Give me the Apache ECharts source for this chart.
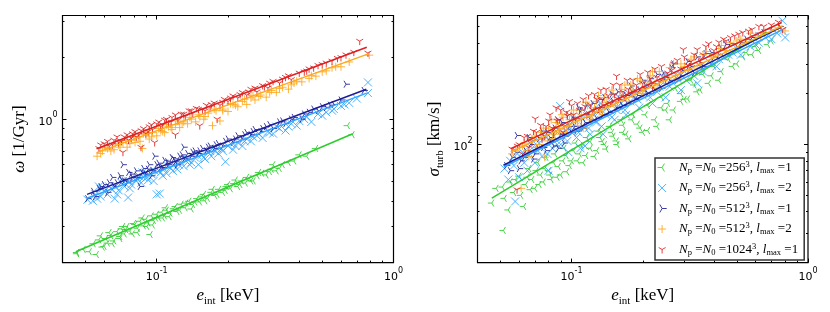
<!DOCTYPE html>
<html><head><meta charset="utf-8">
<script src="https://cdn.jsdelivr.net/npm/echarts@6/dist/echarts.min.js"></script>
<style>html,body{margin:0;padding:0;background:#fff}#c{width:830px;height:312px}</style>
</head><body><div id="c"></div>
<script>
// ---------- tick values ----------
const xMajorTicks = [0.1, 1];
const xMinorTicks = [0.05,0.06,0.07,0.08,0.09,0.2,0.3,0.4,0.5,0.6,0.7,0.8,0.9];
const omegaMajorTicks = [1];
const omegaMinorTicks = [0.3,0.4,0.5,0.6,0.7,0.8,0.9,2,3];
const sigmaMajorTicks = [100];
const sigmaMinorTicks = [30,40,50,60,70,80,90,200,300,400,500];

// ---------- categories ----------
const seriesNames = ['Np=N0=256^3, lmax=1','Np=N0=256^3, lmax=2','Np=N0=512^3, lmax=1','Np=N0=512^3, lmax=2','Np=N0=1024^3, lmax=1'];
const legendLabels = [
  '{i|N}{sub|p}{n| =}{i|N}{sub|0}{n| =256}{sup|3}{n|, }{i|l}{sub|max}{n| =1}',
  '{i|N}{sub|p}{n| =}{i|N}{sub|0}{n| =256}{sup|3}{n|, }{i|l}{sub|max}{n| =2}',
  '{i|N}{sub|p}{n| =}{i|N}{sub|0}{n| =512}{sup|3}{n|, }{i|l}{sub|max}{n| =1}',
  '{i|N}{sub|p}{n| =}{i|N}{sub|0}{n| =512}{sup|3}{n|, }{i|l}{sub|max}{n| =2}',
  '{i|N}{sub|p}{n| =}{i|N}{sub|0}{n| =1024}{sup|3}{n|, }{i|l}{sub|max}{n| =1}'
];

// ---------- left panel: omega [1/Gyr] vs e_int [keV] ----------
const omega_256_l1 = [[0.046,0.224],[0.046,0.221],[0.049,0.232],[0.052,0.226],[0.054,0.247],[0.0557,0.219],[0.057,0.258],[0.059,0.238],[0.061,0.262],[0.062,0.249],[0.064,0.271],[0.066,0.255],[0.068,0.283],[0.07,0.268],[0.071,0.292],[0.073,0.276],[0.075,0.3],[0.077,0.285],[0.079,0.276],[0.081,0.307],[0.083,0.294],[0.085,0.318],[0.088,0.302],[0.09,0.325],[0.092,0.312],[0.094,0.274],[0.095,0.338],[0.097,0.321],[0.1,0.344],[0.102,0.33],[0.105,0.352],[0.108,0.338],[0.11,0.36],[0.114,0.348],[0.118,0.366],[0.122,0.355],[0.127,0.385],[0.132,0.37],[0.137,0.398],[0.142,0.384],[0.148,0.41],[0.152,0.395],[0.158,0.43],[0.164,0.412],[0.17,0.44],[0.176,0.425],[0.183,0.455],[0.19,0.44],[0.197,0.47],[0.205,0.458],[0.212,0.485],[0.22,0.47],[0.228,0.5],[0.237,0.488],[0.246,0.515],[0.256,0.5],[0.266,0.53],[0.278,0.545],[0.29,0.535],[0.305,0.57],[0.32,0.56],[0.34,0.6],[0.36,0.615],[0.38,0.625],[0.4,0.67],[0.43,0.66],[0.47,0.72],[0.64,0.93],[0.67,0.84],
  [0.058,0.27],[0.06,0.24],[0.063,0.28],[0.065,0.247],[0.07,0.262],[0.072,0.3],[0.074,0.29],[0.08,0.31],[0.083,0.28],[0.087,0.33],[0.091,0.3],[0.096,0.305],[0.099,0.33],[0.106,0.33],[0.109,0.37],[0.113,0.335],[0.12,0.375],[0.125,0.36],[0.133,0.39],[0.14,0.365],[0.145,0.395],[0.155,0.418],[0.16,0.4],[0.172,0.455],[0.18,0.43],[0.195,0.45],[0.2,0.48],[0.215,0.505],[0.225,0.48],[0.24,0.52],[0.25,0.5],[0.27,0.55],[0.3,0.555],[0.31,0.6],[0.33,0.575]];
const omega_256_l2 = [[0.051,0.405],[0.0537,0.4],[0.055,0.43],[0.057,0.47],[0.058,0.42],[0.06,0.445],[0.062,0.43],[0.064,0.46],[0.0665,0.41],[0.067,0.47],[0.069,0.45],[0.071,0.49],[0.073,0.47],[0.0757,0.415],[0.076,0.5],[0.078,0.48],[0.08,0.515],[0.082,0.5],[0.084,0.53],[0.086,0.49],[0.088,0.52],[0.09,0.55],[0.092,0.505],[0.095,0.54],[0.098,0.56],[0.1,0.43],[0.103,0.434],[0.104,0.55],[0.107,0.575],[0.11,0.545],[0.114,0.58],[0.118,0.6],[0.122,0.57],[0.126,0.62],[0.13,0.59],[0.135,0.635],[0.14,0.615],[0.145,0.65],[0.15,0.6],[0.155,0.67],[0.16,0.64],[0.165,0.69],[0.17,0.66],[0.176,0.7],[0.182,0.68],[0.188,0.72],[0.195,0.62],[0.2,0.74],[0.21,0.71],[0.22,0.77],[0.23,0.74],[0.24,0.8],[0.25,0.78],[0.265,0.83],[0.28,0.81],[0.295,0.87],[0.31,0.85],[0.33,0.9],[0.35,0.88],[0.37,0.95],[0.39,0.93],[0.42,1.0],[0.45,0.97],[0.48,1.06],[0.52,1.08],[0.56,1.12],[0.6,1.16],[0.65,1.2],[0.78,1.34],[0.78,1.51],
  [0.056,0.41],[0.059,0.46],[0.063,0.47],[0.068,0.43],[0.072,0.5],[0.077,0.46],[0.083,0.51],[0.087,0.55],[0.091,0.52],[0.097,0.5],[0.102,0.56],[0.106,0.53],[0.112,0.59],[0.117,0.56],[0.124,0.6],[0.132,0.63],[0.138,0.6],[0.148,0.67],[0.158,0.65],[0.168,0.7],[0.18,0.72],[0.19,0.7],[0.205,0.76],[0.215,0.74],[0.235,0.78],[0.255,0.82],[0.27,0.85],[0.3,0.86],[0.32,0.92],[0.36,0.92],[0.4,0.98],[0.43,1.03],[0.5,1.04],[0.55,1.1],[0.62,1.18],[0.7,1.26]];
const omega_512_l1 = [[0.051,0.41],[0.054,0.445],[0.057,0.46],[0.06,0.48],[0.062,0.44],[0.065,0.52],[0.068,0.49],[0.07,0.53],[0.072,0.6],[0.073,0.5],[0.076,0.55],[0.079,0.52],[0.082,0.56],[0.085,0.47],[0.088,0.575],[0.09,0.54],[0.093,0.6],[0.096,0.56],[0.098,0.66],[0.1,0.6],[0.104,0.58],[0.108,0.63],[0.112,0.6],[0.116,0.65],[0.12,0.62],[0.125,0.66],[0.13,0.73],[0.131,0.64],[0.135,0.68],[0.14,0.66],[0.145,0.7],[0.15,0.68],[0.156,0.72],[0.162,0.7],[0.168,0.74],[0.175,0.72],[0.182,0.76],[0.19,0.74],[0.2,0.8],[0.21,0.77],[0.22,0.83],[0.23,0.8],[0.24,0.86],[0.25,0.84],[0.26,0.89],[0.275,0.87],[0.29,0.92],[0.31,0.9],[0.33,0.97],[0.35,0.95],[0.38,1.02],[0.41,1.0],[0.44,1.08],[0.48,1.1],[0.52,1.14],[0.56,1.18],[0.63,1.48],
  [0.055,0.42],[0.058,0.47],[0.063,0.49],[0.066,0.47],[0.071,0.51],[0.075,0.49],[0.078,0.54],[0.083,0.52],[0.087,0.55],[0.092,0.57],[0.095,0.53],[0.102,0.61],[0.106,0.58],[0.111,0.62],[0.118,0.64],[0.122,0.6],[0.128,0.67],[0.142,0.69],[0.152,0.7],[0.165,0.73],[0.178,0.75],[0.195,0.78],[0.215,0.8],[0.235,0.84],[0.255,0.87],[0.28,0.9],[0.3,0.94],[0.34,0.98],[0.37,1.0],[0.42,1.06],[0.46,1.12],[0.5,1.15],[0.54,1.17],[0.6,1.24],[0.75,1.38]];
const omega_512_l2 = [[0.056,0.66],[0.059,0.7],[0.062,0.72],[0.066,0.71],[0.069,0.75],[0.072,0.77],[0.075,0.73],[0.078,0.79],[0.081,0.77],[0.084,0.82],[0.087,0.72],[0.09,0.84],[0.093,0.8],[0.096,0.86],[0.1,0.83],[0.104,0.88],[0.108,0.86],[0.112,0.92],[0.116,0.89],[0.12,0.94],[0.125,0.91],[0.13,0.97],[0.135,0.95],[0.14,1.0],[0.146,0.97],[0.152,1.03],[0.158,1.0],[0.165,1.07],[0.172,0.93],[0.178,1.1],[0.185,0.98],[0.19,1.12],[0.2,1.09],[0.21,1.18],[0.22,1.15],[0.23,1.22],[0.24,1.18],[0.25,1.27],[0.26,1.24],[0.275,1.31],[0.29,1.28],[0.305,1.38],[0.32,1.35],[0.34,1.43],[0.36,1.4],[0.38,1.5],[0.41,1.52],[0.44,1.58],[0.47,1.62],[0.5,1.7],[0.55,1.78],[0.6,1.8],[0.79,2.05],
  [0.058,0.68],[0.061,0.73],[0.064,0.7],[0.067,0.76],[0.07,0.73],[0.074,0.79],[0.077,0.76],[0.08,0.82],[0.085,0.78],[0.088,0.85],[0.092,0.86],[0.095,0.82],[0.102,0.9],[0.106,0.87],[0.11,0.94],[0.115,0.91],[0.122,0.98],[0.128,0.95],[0.138,1.02],[0.15,1.05],[0.16,1.03],[0.175,1.12],[0.19,1.1],[0.205,1.19],[0.215,1.17],[0.235,1.25],[0.255,1.3],[0.27,1.29],[0.3,1.35],[0.33,1.41],[0.37,1.47],[0.39,1.53],[0.45,1.63],[0.52,1.72],[0.57,1.8],[0.65,1.9]];
const omega_1024_l1 = [[0.057,0.72],[0.06,0.76],[0.063,0.74],[0.066,0.79],[0.069,0.77],[0.072,0.69],[0.073,0.82],[0.076,0.79],[0.079,0.85],[0.082,0.82],[0.0858,0.73],[0.086,0.88],[0.09,0.85],[0.093,0.92],[0.096,0.89],[0.098,0.77],[0.1,0.95],[0.104,0.92],[0.108,0.99],[0.112,0.96],[0.116,1.02],[0.12,0.84],[0.123,0.99],[0.127,1.06],[0.132,1.03],[0.137,1.1],[0.142,1.07],[0.147,1.13],[0.152,0.93],[0.156,1.11],[0.162,1.17],[0.168,1.14],[0.175,1.2],[0.18,1.0],[0.185,1.17],[0.193,1.25],[0.2,1.22],[0.21,1.3],[0.22,1.27],[0.23,1.35],[0.24,1.31],[0.25,1.4],[0.265,1.36],[0.28,1.46],[0.295,1.42],[0.31,1.53],[0.33,1.5],[0.35,1.6],[0.37,1.56],[0.4,1.68],[0.43,1.72],[0.46,1.78],[0.5,1.85],[0.55,1.92],[0.6,2.0],[0.72,2.4],[0.78,2.1],
  [0.058,0.75],[0.062,0.78],[0.065,0.75],[0.068,0.82],[0.071,0.78],[0.075,0.84],[0.078,0.81],[0.081,0.87],[0.084,0.84],[0.088,0.9],[0.092,0.87],[0.095,0.94],[0.102,0.97],[0.106,0.94],[0.11,1.0],[0.115,0.97],[0.12,1.05],[0.13,1.06],[0.14,1.1],[0.15,1.12],[0.16,1.1],[0.17,1.18],[0.19,1.21],[0.205,1.27],[0.225,1.32],[0.245,1.36],[0.26,1.42],[0.285,1.44],[0.3,1.5],[0.34,1.57],[0.36,1.63],[0.42,1.7],[0.44,1.76],[0.48,1.83],[0.52,1.88],[0.58,1.98],[0.63,2.06],[0.68,2.12]];
const omegaFit_256_l1 = [[0.0455,0.226],[0.673,0.849]];
const omegaFit_256_l2 = [[0.0508,0.412],[0.771,1.34]];
const omegaFit_512_l1 = [[0.0508,0.430],[0.768,1.40]];
const omegaFit_512_l2 = [[0.0557,0.687],[0.783,2.08]];
const omegaFit_1024_l1 = [[0.0557,0.718],[0.771,2.24]];

// ---------- right panel: sigma_turb [km/s] vs e_int [keV] ----------
const sigma_256_l1 = [[0.046,45],[0.0515,31],[0.051,56],[0.054,41],[0.055,60],[0.057,52],[0.06,65],[0.0628,43],[0.064,58],[0.066,72],[0.068,62],[0.07,55],[0.072,78],[0.074,66],[0.076,60],[0.078,84],[0.08,70],[0.082,62],[0.085,88],[0.088,74],[0.09,66],[0.093,95],[0.0955,69],[0.1,80],[0.104,102],[0.108,88],[0.112,78],[0.116,110],[0.12,95],[0.125,85],[0.13,120],[0.135,104],[0.14,94],[0.145,128],[0.15,112],[0.156,100],[0.162,140],[0.165,118],[0.175,108],[0.182,150],[0.19,132],[0.2,118],[0.21,170],[0.21,121],[0.23,128],[0.24,190],[0.25,160],[0.26,140],[0.275,215],[0.29,180],[0.31,186],[0.32,240],[0.34,205],[0.36,260],[0.38,230],[0.4,290],[0.43,270],[0.46,320],[0.5,300],[0.55,350],[0.6,380],[0.676,390],
  [0.048,55],[0.052,48],[0.058,62],[0.061,50],[0.065,64],[0.067,54],[0.071,70],[0.073,58],[0.077,72],[0.081,66],[0.084,78],[0.087,64],[0.092,80],[0.095,86],[0.098,75],[0.102,92],[0.106,80],[0.11,98],[0.115,86],[0.12,104],[0.128,92],[0.132,110],[0.138,100],[0.148,118],[0.155,105],[0.165,130],[0.17,115],[0.18,140],[0.195,125],[0.205,150],[0.225,140],[0.24,165],[0.255,175],[0.27,160],[0.29,200],[0.3,185],[0.33,225],[0.35,210],[0.39,255],[0.42,240],[0.48,290],[0.53,330],[0.58,340],[0.62,360],[0.7,410]];
const sigma_256_l2 = [[0.052,72],[0.055,80],[0.0577,46],[0.06,64],[0.062,90],[0.065,70],[0.068,95],[0.07,78],[0.073,102],[0.075,85],[0.078,110],[0.08,70],[0.083,95],[0.086,120],[0.0895,169],[0.09,100],[0.094,128],[0.097,90],[0.1,135],[0.105,110],[0.109,95],[0.11,145],[0.114,98],[0.118,125],[0.122,160],[0.127,135],[0.132,175],[0.136,115],[0.14,150],[0.146,185],[0.152,140],[0.158,170],[0.164,195],[0.17,150],[0.177,180],[0.185,210],[0.193,165],[0.2,195],[0.21,225],[0.22,175],[0.23,205],[0.24,240],[0.25,190],[0.26,220],[0.275,260],[0.29,210],[0.305,240],[0.32,280],[0.34,230],[0.36,270],[0.38,310],[0.41,290],[0.44,330],[0.48,350],[0.52,340],[0.57,380],[0.62,400],[0.7,420],[0.78,470],[0.8,430],[0.78,540],
  [0.054,62],[0.057,75],[0.059,88],[0.063,78],[0.066,86],[0.069,104],[0.072,92],[0.076,115],[0.079,88],[0.081,105],[0.084,112],[0.087,100],[0.092,118],[0.096,105],[0.099,125],[0.103,140],[0.107,118],[0.112,128],[0.116,152],[0.12,115],[0.125,140],[0.13,155],[0.134,128],[0.142,165],[0.148,145],[0.155,160],[0.162,175],[0.168,160],[0.175,200],[0.19,185],[0.205,210],[0.215,190],[0.235,220],[0.245,250],[0.265,235],[0.28,245],[0.3,270],[0.33,255],[0.35,290],[0.39,300],[0.42,320],[0.46,340],[0.5,370],[0.6,390],[0.66,430],[0.74,455]];
const sigma_512_l1 = [[0.053,75],[0.056,84],[0.0588,113],[0.061,80],[0.064,92],[0.067,100],[0.07,88],[0.073,108],[0.076,96],[0.079,118],[0.082,104],[0.085,125],[0.088,95],[0.091,135],[0.094,112],[0.098,128],[0.101,145],[0.105,120],[0.11,160],[0.114,135],[0.118,150],[0.123,175],[0.128,142],[0.133,165],[0.138,190],[0.144,155],[0.15,180],[0.157,205],[0.164,170],[0.17,195],[0.178,222],[0.186,185],[0.194,210],[0.2,240],[0.21,200],[0.22,230],[0.23,260],[0.24,215],[0.25,250],[0.265,285],[0.28,240],[0.295,275],[0.31,310],[0.33,265],[0.35,305],[0.37,345],[0.4,330],[0.43,370],[0.47,395],[0.52,400],[0.58,430],[0.65,460],[0.76,500],
  [0.055,70],[0.058,90],[0.06,72],[0.063,84],[0.066,110],[0.069,82],[0.072,96],[0.075,120],[0.078,92],[0.081,110],[0.084,98],[0.087,140],[0.09,115],[0.093,102],[0.097,150],[0.1,118],[0.103,128],[0.107,165],[0.112,125],[0.116,170],[0.12,140],[0.126,155],[0.131,185],[0.136,150],[0.142,170],[0.148,198],[0.155,165],[0.16,185],[0.172,175],[0.18,205],[0.19,195],[0.205,225],[0.215,245],[0.225,210],[0.245,265],[0.26,240],[0.27,300],[0.29,255],[0.32,290],[0.34,330],[0.36,290],[0.39,350],[0.42,340],[0.45,390],[0.5,380],[0.55,420],[0.62,440],[0.7,470]];
const sigma_512_l2 = [[0.056,88],[0.0612,55],[0.062,98],[0.065,92],[0.068,108],[0.071,96],[0.074,118],[0.077,84],[0.08,125],[0.083,108],[0.086,135],[0.089,118],[0.092,145],[0.096,128],[0.1,150],[0.104,138],[0.108,160],[0.112,125],[0.117,170],[0.122,148],[0.127,180],[0.132,158],[0.138,190],[0.144,168],[0.15,200],[0.156,180],[0.163,212],[0.17,190],[0.178,225],[0.186,200],[0.195,238],[0.205,215],[0.215,255],[0.225,228],[0.235,270],[0.245,240],[0.26,285],[0.275,255],[0.29,300],[0.31,275],[0.33,330],[0.35,300],[0.37,355],[0.4,340],[0.43,385],[0.47,400],[0.52,420],[0.57,455],[0.63,440],[0.7,480],[0.8,470],
  [0.058,92],[0.063,102],[0.066,85],[0.07,112],[0.073,100],[0.076,125],[0.079,105],[0.082,140],[0.085,115],[0.088,128],[0.091,150],[0.095,118],[0.098,140],[0.102,160],[0.106,130],[0.11,150],[0.115,178],[0.12,140],[0.125,165],[0.13,195],[0.135,150],[0.141,178],[0.148,210],[0.153,170],[0.16,195],[0.168,225],[0.175,180],[0.182,210],[0.19,245],[0.2,200],[0.21,235],[0.22,270],[0.23,215],[0.25,255],[0.27,300],[0.28,245],[0.3,290],[0.32,320],[0.34,280],[0.36,340],[0.39,330],[0.42,370],[0.45,360],[0.5,410],[0.55,400],[0.6,440],[0.66,460],[0.75,490]];
const sigma_1024_l1 = [[0.056,94],[0.0588,54],[0.06,100],[0.063,110],[0.066,96],[0.069,120],[0.0702,142],[0.075,108],[0.078,128],[0.081,150],[0.084,118],[0.087,138],[0.09,160],[0.093,128],[0.096,148],[0.1,170],[0.104,140],[0.108,160],[0.112,185],[0.116,150],[0.12,172],[0.125,198],[0.13,162],[0.135,185],[0.14,212],[0.146,175],[0.152,198],[0.155,254],[0.16,225],[0.167,190],[0.174,212],[0.182,240],[0.19,205],[0.2,230],[0.21,268],[0.22,220],[0.23,250],[0.24,290],[0.25,240],[0.265,275],[0.28,315],[0.297,365],[0.31,295],[0.33,340],[0.35,320],[0.37,380],[0.4,360],[0.42,403],[0.45,410],[0.49,440],[0.53,460],[0.58,480],[0.65,500],[0.75,530],[0.78,480],
  [0.059,98],[0.062,88],[0.065,112],[0.068,104],[0.071,118],[0.074,130],[0.077,112],[0.08,138],[0.083,125],[0.086,165],[0.089,140],[0.092,118],[0.095,155],[0.098,180],[0.102,150],[0.106,175],[0.11,140],[0.114,168],[0.118,195],[0.123,160],[0.128,185],[0.133,210],[0.138,170],[0.143,195],[0.15,225],[0.158,185],[0.165,205],[0.172,240],[0.18,200],[0.188,225],[0.195,260],[0.205,215],[0.215,245],[0.225,280],[0.235,235],[0.255,265],[0.27,300],[0.29,280],[0.3,330],[0.32,310],[0.34,365],[0.36,340],[0.38,395],[0.41,380],[0.44,420],[0.47,430],[0.51,450],[0.56,470],[0.62,500],[0.7,510]];
const sigmaFit_256_l1 = [[0.046,48.1],[0.670,463]];
const sigmaFit_256_l2 = [[0.0518,73.8],[0.780,478]];
const sigmaFit_512_l1 = [[0.0515,75.4],[0.770,495]];
const sigmaFit_512_l2 = [[0.0553,90.3],[0.780,504]];
const sigmaFit_1024_l1 = [[0.0553,94.5],[0.774,527]];

// ---------- styling ----------
const COLORS = ['#2ccc2c', '#2fa4ff', '#1c1c96', '#ffa81c', '#dd2020'];
const SYMBOLS = [
  'path://M0,0L-6,0M0,0L3,-5.2M0,0L3,5.2M6,0L6,0',   // tri_left
  'path://M-5,-5L5,5M-5,5L5,-5',                     // x
  'path://M0,0L6,0M0,0L-3,-5.2M0,0L-3,5.2M-6,0L-6,0', // tri_right
  'path://M-6,0L6,0M0,-6L0,6',                       // +
  'path://M0,0L0,6M0,0L-5.2,-3M0,0L5.2,-3M0,-6L0,-6' // tri_down
];
const SERIF = 'Liberation Serif';
const SANS = 'DejaVu Sans';

const leftScatter = [omega_256_l1, omega_256_l2, omega_512_l1, omega_512_l2, omega_1024_l1];
const leftFits = [omegaFit_256_l1, omegaFit_256_l2, omegaFit_512_l1, omegaFit_512_l2, omegaFit_1024_l1];
const rightScatter = [sigma_256_l1, sigma_256_l2, sigma_512_l1, sigma_512_l2, sigma_1024_l1];
const rightFits = [sigmaFit_256_l1, sigmaFit_256_l2, sigmaFit_512_l1, sigmaFit_512_l2, sigmaFit_1024_l1];

const powFormatter = v => '{b|10}{sup|' + Math.round(Math.log10(v)) + '}';
const tickLabelRich = {
  b: { fontFamily: SANS, fontSize: 11, color: '#000', lineHeight: 16, verticalAlign: 'bottom' },
  sup: { fontFamily: SANS, fontSize: 8, color: '#000', lineHeight: 16, verticalAlign: 'top' }
};
const nameRich = {
  i: { fontFamily: SERIF, fontStyle: 'italic', fontSize: 17, lineHeight: 22, color: '#000', verticalAlign: 'middle' },
  sub: { fontFamily: SERIF, fontSize: 11, lineHeight: 22, color: '#000', verticalAlign: 'bottom' },
  n: { fontFamily: SERIF, fontSize: 17, lineHeight: 22, color: '#000', verticalAlign: 'middle' }
};

function axisGroup(dim, grid, min, max, major, minor, name, nameGap) {
  const mainPos = dim === 'x' ? 'bottom' : 'left';
  const oppPos = dim === 'x' ? 'top' : 'right';
  const tickStyle = { color: '#000', width: 1 };
  const base = { type: 'log', logBase: 10, gridIndex: grid, min: min, max: max,
    axisLine: { show: false }, splitLine: { show: false }, axisLabel: { show: false } };
  return [
    Object.assign({}, base, {
      position: mainPos,
      axisTick: { show: true, inside: true, length: 4, customValues: major, lineStyle: tickStyle },
      axisLabel: { show: true, customValues: major, formatter: powFormatter, rich: tickLabelRich, margin: dim === 'x' ? 4 : 5, hideOverlap: false },
      name: name, nameLocation: 'middle', nameGap: nameGap,
      nameTextStyle: { rich: nameRich }
    }),
    Object.assign({}, base, { position: mainPos, axisTick: { show: true, inside: true, length: 2, customValues: minor, lineStyle: tickStyle } }),
    Object.assign({}, base, { position: oppPos, axisTick: { show: true, inside: true, length: 4, customValues: major, lineStyle: tickStyle } }),
    Object.assign({}, base, { position: oppPos, axisTick: { show: true, inside: true, length: 2, customValues: minor, lineStyle: tickStyle } })
  ];
}

const xAxes = [].concat(
  axisGroup('x', 0, 0.04, 1, xMajorTicks, xMinorTicks, '{i|e}{sub|int}{n| [keV]}', 18),
  axisGroup('x', 1, 0.04, 1, xMajorTicks, xMinorTicks, '{i|e}{sub|int}{n| [keV]}', 18)
);
const yAxes = [].concat(
  axisGroup('y', 0, 0.2, 3.2, omegaMajorTicks, omegaMinorTicks, '{i|ω}{n| [1/Gyr]}', 32),
  axisGroup('y', 1, 20, 580, sigmaMajorTicks, sigmaMinorTicks, '{i|σ}{sub|turb}{n| [km/s]}', 32)
);

const series = [];
function addPanel(scatters, fits, axisIdx) {
  scatters.forEach((pts, k) => {
    series.push({
      type: 'scatter', name: seriesNames[k], xAxisIndex: axisIdx, yAxisIndex: axisIdx,
      data: pts, symbol: SYMBOLS[k], symbolSize: 8, symbolKeepAspect: true,
      itemStyle: { color: 'transparent', borderColor: COLORS[k], borderWidth: 1, opacity: 0.85 },
      emphasis: { disabled: true }, silent: true
    });
    series.push({
      type: 'line', name: 'fit' + axisIdx + '_' + k, xAxisIndex: axisIdx, yAxisIndex: axisIdx,
      data: fits[k], showSymbol: false, symbol: 'none',
      lineStyle: { color: COLORS[k], width: 1.5 }, silent: true
    });
  });
}
addPanel(leftScatter, leftFits, 0);
addPanel(rightScatter, rightFits, 4);

const chart = echarts.init(document.getElementById('c'), null, { renderer: 'canvas' });
chart.setOption({
  animation: false,
  backgroundColor: '#fff',
  grid: [
    { left: 62.5, top: 15.5, width: 331, height: 249.5, show: true, borderColor: '#000', borderWidth: 1.2, backgroundColor: 'transparent', containLabel: false },
    { left: 477.5, top: 15.5, width: 330.5, height: 249.5, show: true, borderColor: '#000', borderWidth: 1.2, backgroundColor: 'transparent', containLabel: false }
  ],
  xAxis: xAxes,
  yAxis: yAxes,
  legend: {
    orient: 'vertical', left: 655, top: 158,
    padding: [2, 6, 3, 2], itemGap: 5.5, itemWidth: 24, itemHeight: 8,
    backgroundColor: '#fff', borderColor: '#333', borderWidth: 1.5, borderRadius: 0,
    selectedMode: false, z: 3,
    data: seriesNames.map((n, k) => ({ name: n, icon: SYMBOLS[k], itemStyle: { color: 'transparent', borderColor: COLORS[k], borderWidth: 1 } })),
    formatter: name => legendLabels[seriesNames.indexOf(name)],
    textStyle: {
      rich: {
        i: { fontFamily: SERIF, fontStyle: 'italic', fontSize: 13, lineHeight: 15, color: '#000', verticalAlign: 'middle' },
        n: { fontFamily: SERIF, fontSize: 13, lineHeight: 15, color: '#000', verticalAlign: 'middle' },
        sub: { fontFamily: SERIF, fontSize: 8.5, lineHeight: 15, color: '#000', verticalAlign: 'bottom' },
        sup: { fontFamily: SERIF, fontSize: 8.5, lineHeight: 15, color: '#000', verticalAlign: 'top' }
      }
    }
  },
  series: series
});
</script></body></html>
